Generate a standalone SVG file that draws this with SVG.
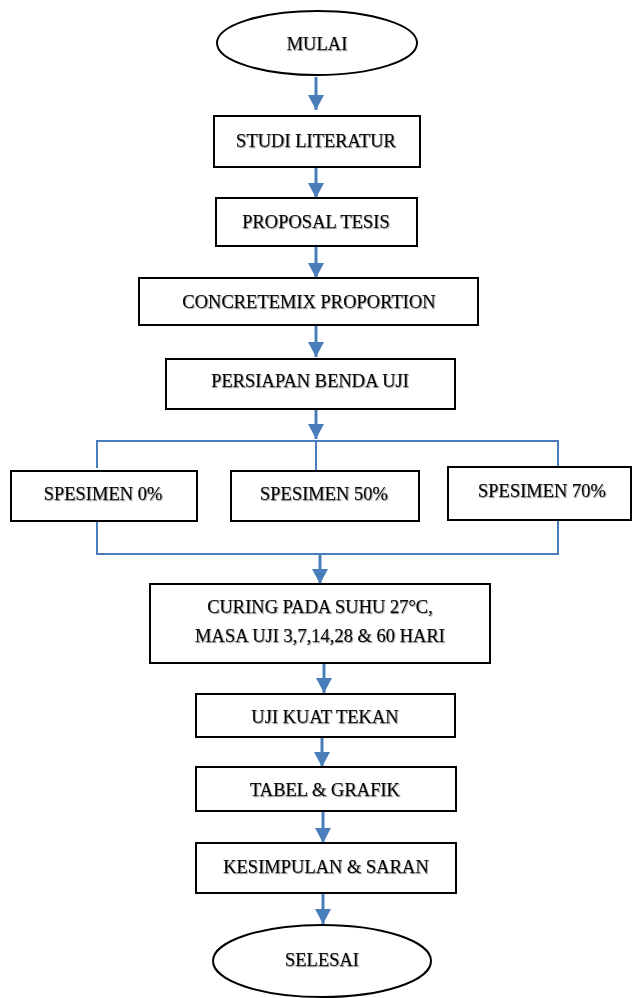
<svg xmlns="http://www.w3.org/2000/svg" width="632" height="998" viewBox="0 0 632 998">
<defs>
<style>
.box{fill:#fff;stroke:#000;stroke-width:2}
.t{font-family:"Liberation Serif","Times New Roman",serif;font-size:18.5px;fill:#000;stroke:#000;stroke-width:0.25;text-anchor:middle;filter:url(#sh)}
.arr{stroke:#4a7ebb;stroke-width:3;fill:none;marker-end:url(#ah)}
.ln{stroke:#4a7ebb;stroke-width:2;fill:none}
</style>
<marker id="ah" markerUnits="userSpaceOnUse" markerWidth="16" markerHeight="16" refX="15" refY="8" orient="auto">
<path d="M0,0 L15,8 L0,16 Z" fill="#4a7ebb"/>
</marker>
<filter id="sh" x="-5%" y="-20%" width="110%" height="140%">
<feDropShadow dx="1" dy="1" stdDeviation="0.6" flood-color="#888" flood-opacity="0.6"/>
</filter>
</defs>
<rect width="632" height="998" fill="#fff"/>
<g id="connectors">
<line class="arr" x1="316" y1="77" x2="316" y2="110"/>
<line class="arr" x1="316" y1="167" x2="316" y2="198"/>
<line class="arr" x1="316" y1="246" x2="316" y2="278"/>
<line class="arr" x1="316" y1="325" x2="316" y2="357"/>
<line class="arr" x1="316" y1="409" x2="316" y2="439"/>
<polyline class="ln" points="97,468 97,441 558,441 558,467"/>
<line class="ln" x1="316" y1="441" x2="316" y2="471"/>
<polyline class="ln" points="97,520 97,554 558,554 558,520"/>
<line class="arr" x1="320" y1="554" x2="320" y2="584"/>
<line class="arr" x1="324" y1="663" x2="324" y2="693"/>
<line class="arr" x1="322" y1="737" x2="322" y2="767"/>
<line class="arr" x1="323" y1="811" x2="323" y2="843"/>
<line class="arr" x1="323" y1="893" x2="323" y2="924"/>
</g>
<g id="mulai"><ellipse class="box" cx="317" cy="43" rx="100" ry="32"/><text class="t" x="317" y="50">MULAI</text></g>
<g id="studi"><rect class="box" x="214" y="116" width="206" height="51"/><text class="t" x="316" y="147">STUDI LITERATUR</text></g>
<g id="proposal"><rect class="box" x="216" y="198" width="201" height="48"/><text class="t" x="316" y="228">PROPOSAL TESIS</text></g>
<g id="concrete"><rect class="box" x="139" y="278" width="339" height="47"/><text class="t" x="309" y="308">CONCRETEMIX PROPORTION</text></g>
<g id="persiapan"><rect class="box" x="166" y="359" width="289" height="50"/><text class="t" x="310" y="387">PERSIAPAN BENDA UJI</text></g>
<g id="spes0"><rect class="box" x="11" y="471" width="186" height="50"/><text class="t" x="103" y="500">SPESIMEN 0%</text></g>
<g id="spes50"><rect class="box" x="231" y="471" width="188" height="50"/><text class="t" x="324" y="500">SPESIMEN 50%</text></g>
<g id="spes70"><rect class="box" x="448" y="467" width="183" height="53"/><text class="t" x="542" y="497">SPESIMEN 70%</text></g>
<g id="curing"><rect class="box" x="150" y="584" width="340" height="79"/><text class="t" x="320" y="613">CURING PADA SUHU 27°C,</text><text class="t" x="320" y="642">MASA UJI 3,7,14,28 &amp; 60 HARI</text></g>
<g id="uji"><rect class="box" x="196" y="694" width="259" height="43"/><text class="t" x="325" y="723">UJI KUAT TEKAN</text></g>
<g id="tabel"><rect class="box" x="196" y="767" width="260" height="44"/><text class="t" x="325" y="796">TABEL &amp; GRAFIK</text></g>
<g id="kesimpulan"><rect class="box" x="196" y="843" width="260" height="50"/><text class="t" x="326" y="873">KESIMPULAN &amp; SARAN</text></g>
<g id="selesai"><ellipse class="box" cx="322" cy="961" rx="109" ry="36"/><text class="t" x="322" y="966">SELESAI</text></g>
</svg>
